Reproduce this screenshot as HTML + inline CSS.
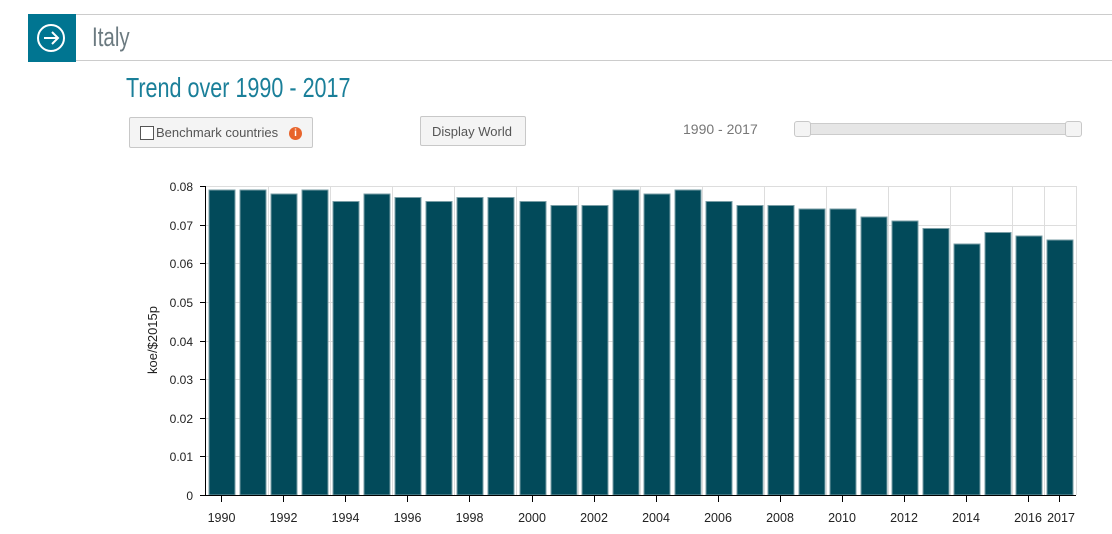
<!DOCTYPE html>
<html><head><meta charset="utf-8"><style>
body{margin:0;width:1112px;height:534px;background:#fff;font-family:"Liberation Sans",sans-serif;position:relative;overflow:hidden}
.hdr{position:absolute;left:28px;top:14px;right:0;height:47px;border-top:1px solid #ccc;border-bottom:1px solid #ccc;box-sizing:border-box}
.ico{position:absolute;left:28px;top:14px;width:48px;height:48px;background:#007591}
.btn{position:absolute;background:#f4f4f4;border:1px solid #c8c8c8;border-radius:2px;box-sizing:border-box;color:#555;font-size:13px}
</style></head><body>
<div class="hdr"></div>
<div class="ico"><svg width="48" height="48"><circle cx="23" cy="24" r="13" fill="none" stroke="#fff" stroke-width="2"/><path d="M16 24h13M24 18l6 6-6 6" fill="none" stroke="#fff" stroke-width="2"/></svg></div>
<div style="position:absolute;left:92px;top:22px;font-size:27px;color:#6b7a80;transform:scaleX(0.76);transform-origin:left">Italy</div>
<div style="position:absolute;left:126px;top:72px;font-size:28px;color:#1a7f99;transform:scaleX(0.77);transform-origin:left">Trend over 1990 - 2017</div>
<div class="btn" style="left:129px;top:117px;width:184px;height:31px"><span style="position:absolute;left:10px;top:8px;width:12px;height:12px;border:1px solid #555;background:#fff"></span><span style="position:absolute;left:26px;top:7px">Benchmark countries</span><span style="position:absolute;left:159px;top:9px;width:13px;height:13px;border-radius:50%;background:#e8642c;color:#fff;font-size:10px;font-weight:bold;text-align:center;line-height:13px">i</span></div>
<div class="btn" style="left:420px;top:116px;width:106px;height:30px"><span style="position:absolute;left:11px;top:7px">Display World</span></div>
<div style="position:absolute;left:683px;top:121px;font-size:14px;color:#777">1990 - 2017</div>
<div style="position:absolute;left:794px;top:123px;width:288px;height:12px;background:#e6e6e6;border:1px solid #ccc;border-radius:3px;box-sizing:border-box"></div>
<div style="position:absolute;left:794px;top:121px;width:17px;height:16px;background:#f4f4f4;border:1px solid #c8c8c8;border-radius:3px;box-sizing:border-box"></div>
<div style="position:absolute;left:1065px;top:121px;width:17px;height:16px;background:#f4f4f4;border:1px solid #c8c8c8;border-radius:3px;box-sizing:border-box"></div>
<svg style="position:absolute;left:0;top:0" width="1112" height="534" font-family="Liberation Sans, sans-serif" font-size="12">
<g stroke="#ddd" stroke-width="1">
<line x1="206" y1="186.5" x2="1076" y2="186.5"/><line x1="206" y1="225.5" x2="1076" y2="225.5"/><line x1="206" y1="263.5" x2="1076" y2="263.5"/><line x1="206" y1="302.5" x2="1076" y2="302.5"/><line x1="206" y1="341.5" x2="1076" y2="341.5"/><line x1="206" y1="379.5" x2="1076" y2="379.5"/><line x1="206" y1="418.5" x2="1076" y2="418.5"/><line x1="206" y1="456.5" x2="1076" y2="456.5"/>
<line x1="268.5" y1="186" x2="268.5" y2="495"/><line x1="330.5" y1="186" x2="330.5" y2="495"/><line x1="392.5" y1="186" x2="392.5" y2="495"/><line x1="454.5" y1="186" x2="454.5" y2="495"/><line x1="516.5" y1="186" x2="516.5" y2="495"/><line x1="578.5" y1="186" x2="578.5" y2="495"/><line x1="640.5" y1="186" x2="640.5" y2="495"/><line x1="702.5" y1="186" x2="702.5" y2="495"/><line x1="764.5" y1="186" x2="764.5" y2="495"/><line x1="826.5" y1="186" x2="826.5" y2="495"/><line x1="888.5" y1="186" x2="888.5" y2="495"/><line x1="950.5" y1="186" x2="950.5" y2="495"/><line x1="1012.5" y1="186" x2="1012.5" y2="495"/><line x1="1044.5" y1="186" x2="1044.5" y2="495"/><line x1="1076.5" y1="186" x2="1076.5" y2="495"/>
</g>
<g fill="#024a5a" stroke="#7a9ea6" stroke-width="1">
<rect x="209" y="190" width="26" height="305"/>
<rect x="240" y="190" width="26" height="305"/>
<rect x="271" y="194" width="26" height="301"/>
<rect x="302" y="190" width="26" height="305"/>
<rect x="333" y="201.5" width="26" height="293.5"/>
<rect x="364" y="194" width="26" height="301"/>
<rect x="395" y="197.5" width="26" height="297.5"/>
<rect x="426" y="201.5" width="26" height="293.5"/>
<rect x="457" y="197.5" width="26" height="297.5"/>
<rect x="488" y="197.5" width="26" height="297.5"/>
<rect x="520" y="201.5" width="26" height="293.5"/>
<rect x="551" y="205.5" width="26" height="289.5"/>
<rect x="582" y="205.5" width="26" height="289.5"/>
<rect x="613" y="190" width="26" height="305"/>
<rect x="644" y="194" width="26" height="301"/>
<rect x="675" y="190" width="26" height="305"/>
<rect x="706" y="201.5" width="26" height="293.5"/>
<rect x="737" y="205.5" width="26" height="289.5"/>
<rect x="768" y="205.5" width="26" height="289.5"/>
<rect x="799" y="209" width="26" height="286"/>
<rect x="830" y="209" width="26" height="286"/>
<rect x="861" y="217" width="26" height="278"/>
<rect x="892" y="221" width="26" height="274"/>
<rect x="923" y="228.5" width="26" height="266.5"/>
<rect x="954" y="244" width="26" height="251"/>
<rect x="985" y="232.5" width="26" height="262.5"/>
<rect x="1016" y="236" width="26" height="259"/>
<rect x="1047" y="240" width="26" height="255"/>
</g>
<g stroke="#000" stroke-width="1">
<line x1="205.5" y1="186" x2="205.5" y2="496"/><line x1="205" y1="495.5" x2="1076" y2="495.5"/>
<line x1="200" y1="186.5" x2="206" y2="186.5"/><line x1="200" y1="225.5" x2="206" y2="225.5"/><line x1="200" y1="263.5" x2="206" y2="263.5"/><line x1="200" y1="302.5" x2="206" y2="302.5"/><line x1="200" y1="341.5" x2="206" y2="341.5"/><line x1="200" y1="379.5" x2="206" y2="379.5"/><line x1="200" y1="418.5" x2="206" y2="418.5"/><line x1="200" y1="456.5" x2="206" y2="456.5"/><line x1="200" y1="495.5" x2="206" y2="495.5"/>
<line x1="221.5" y1="496" x2="221.5" y2="502"/><line x1="283.5" y1="496" x2="283.5" y2="502"/><line x1="345.5" y1="496" x2="345.5" y2="502"/><line x1="407.5" y1="496" x2="407.5" y2="502"/><line x1="469.5" y1="496" x2="469.5" y2="502"/><line x1="532.5" y1="496" x2="532.5" y2="502"/><line x1="594.5" y1="496" x2="594.5" y2="502"/><line x1="656.5" y1="496" x2="656.5" y2="502"/><line x1="718.5" y1="496" x2="718.5" y2="502"/><line x1="780.5" y1="496" x2="780.5" y2="502"/><line x1="842.5" y1="496" x2="842.5" y2="502"/><line x1="904.5" y1="496" x2="904.5" y2="502"/><line x1="966.5" y1="496" x2="966.5" y2="502"/><line x1="1028.5" y1="496" x2="1028.5" y2="502"/><line x1="1059.5" y1="496" x2="1059.5" y2="502"/>
</g>
<g text-anchor="end" fill="#222">
<text x="193" y="191">0.08</text><text x="193" y="230">0.07</text><text x="193" y="268">0.06</text><text x="193" y="307">0.05</text><text x="193" y="346">0.04</text><text x="193" y="384">0.03</text><text x="193" y="423">0.02</text><text x="193" y="461">0.01</text><text x="193" y="500">0</text>
</g>
<g text-anchor="middle" fill="#222" font-size="12.5">
<text x="221.5" y="522">1990</text><text x="283.5" y="522">1992</text><text x="345.5" y="522">1994</text><text x="407.5" y="522">1996</text><text x="469.5" y="522">1998</text><text x="532" y="522">2000</text><text x="594" y="522">2002</text><text x="656" y="522">2004</text><text x="718" y="522">2006</text><text x="780" y="522">2008</text><text x="842" y="522">2010</text><text x="904" y="522">2012</text><text x="966" y="522">2014</text><text x="1028" y="522">2016</text><text x="1061" y="522">2017</text>
</g>
<text x="0" y="0" transform="translate(157,340) rotate(-90)" text-anchor="middle" fill="#222" font-size="13">koe/$2015p</text>
</svg>
</body></html>
